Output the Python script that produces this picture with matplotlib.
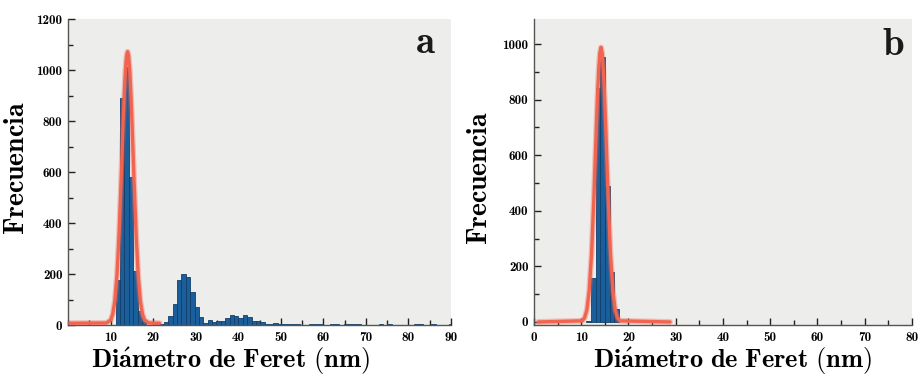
import numpy as np
import matplotlib
matplotlib.use("Agg")
import matplotlib.pyplot as plt
from matplotlib.ticker import MultipleLocator, FixedLocator

plt.rcParams['mathtext.fontset'] = 'cm'
plt.rcParams['font.family'] = ['cmb10', 'DejaVu Serif']
plt.rcParams['axes.unicode_minus'] = False

# ─── Data ────────────────────────────────────────────────────────────────────

# panel a: histogram (bin width ~1.03 nm starting at 11.2 nm)
a_bin_start = 11.2
a_bin_width = 1.03
a_counts = [175, 890, 1010, 580, 210, 55, 15, 2, 2, 3, 5,
            10, 37, 81, 176, 200, 187, 128, 72, 33, 9,
            20, 12, 16, 16, 29, 39, 35, 29, 39, 33,
            16, 16, 10, 4, 4, 6, 3, 3, 5, 5,
            4, 2, 2, 4, 5, 4, 2, 2, 3, 3,
            2, 3, 4, 3, 3, 0, 0, 0, 0, 4,
            0, 4, 0, 0, 0, 0, 0, 3, 3, 0,
            0, 3, 0, 0, 0, 4, 4]

a_fit_x = [0.5, 9.0, 10.0, 10.5, 11.0, 11.5, 12.0, 12.5, 13.0, 13.25, 13.5, 13.75,
           14.0, 14.25, 14.5, 14.75, 15.0, 15.5, 16.0, 16.5, 17.0, 17.5, 18.0,
           19.0, 21.5]
a_fit_y = [7, 8, 19, 42, 94, 194, 357, 576, 813, 917, 1000, 1054,
           1072, 1054, 1000, 917, 813, 576, 357, 194, 94, 42, 19, 8, 7]

# panel b: histogram (bin width 1 nm starting at 11.05 nm)
b_bin_start = 11.05
b_bin_width = 1.0
b_counts = [5, 157, 841, 955, 490, 181, 46]

b_fit_x = [0.9, 10.2, 10.7, 11.2, 11.7, 12.2, 12.7, 13.2, 13.45, 13.7, 13.95,
           14.2, 14.45, 14.7, 14.95, 15.2, 15.7, 16.2, 16.7, 17.2, 17.7, 18.2,
           28.8]
b_fit_y = [0, 4, 14, 43, 113, 246, 452, 698, 813, 906, 967, 988, 967, 906,
           813, 698, 452, 246, 113, 43, 14, 4, 0]

BG = '#EDEDEB'
BAR = '#1B5E9C'
BAR_EDGE = '#123F6A'
FIT = '#F06450'
SPINE = '#555555'

XLABEL = r'$\mathbf{Di\acute{a}metro\ de\ Feret\ (nm)}$'
YLABEL = r'$\mathbf{Frecuencia}$'


def style_axes(ax):
    ax.set_facecolor(BG)
    for s in ('top', 'right'):
        ax.spines[s].set_visible(False)
    for s in ('left', 'bottom'):
        ax.spines[s].set_color(SPINE)
        ax.spines[s].set_linewidth(1.0)
    ax.tick_params(which='both', direction='in', color='#222222', width=1.0)
    ax.tick_params(which='major', length=5)
    ax.tick_params(which='minor', length=3.5)
    ax.tick_params(axis='x', which='both', pad=5, labelsize=9.5)
    ax.tick_params(axis='y', which='both', pad=4, labelsize=9.5)


def draw_hist(ax, start, width, counts):
    lefts = start + width * np.arange(len(counts))
    ax.bar(lefts, counts, width=width, align='edge', color=BAR,
           edgecolor=BAR_EDGE, linewidth=0.6, zorder=2)


def draw_fit(ax, x, y):
    ax.plot(x, y, color=FIT, linewidth=4.2, alpha=0.35,
            solid_capstyle='round', zorder=3)
    ax.plot(x, y, color=FIT, linewidth=2.4, solid_capstyle='round', zorder=4)


fig = plt.figure(figsize=(9.19, 3.76), dpi=100)
ax_a = fig.add_axes([0.074, 0.1356, 0.4168, 0.8138])
ax_b = fig.add_axes([0.581, 0.1356, 0.4113, 0.8138])

# ─── Panel a ─────────────────────────────────────────────────────────────────
style_axes(ax_a)
draw_hist(ax_a, a_bin_start, a_bin_width, a_counts)
draw_fit(ax_a, a_fit_x, a_fit_y)
ax_a.set_xlim(0, 90)
ax_a.set_ylim(0, 1200)
ax_a.xaxis.set_major_locator(FixedLocator(np.arange(10, 91, 10)))
ax_a.xaxis.set_minor_locator(MultipleLocator(5))
ax_a.yaxis.set_major_locator(MultipleLocator(200))
ax_a.yaxis.set_minor_locator(MultipleLocator(100))
ax_a.set_xlabel(XLABEL, fontsize=19)
ax_a.set_ylabel(YLABEL, fontsize=20)
ax_a.xaxis.set_label_coords(0.423, -0.066)
ax_a.yaxis.set_label_coords(-0.099, 0.513)
ax_a.text(0.932, 0.889, r'$\mathbf{a}$', transform=ax_a.transAxes,
          fontsize=28, ha='center', va='baseline', color='#1a1a1a')

# ─── Panel b ─────────────────────────────────────────────────────────────────
style_axes(ax_b)
draw_hist(ax_b, b_bin_start, b_bin_width, b_counts)
draw_fit(ax_b, b_fit_x, b_fit_y)
ax_b.set_xlim(0, 80)
ax_b.set_ylim(-11, 1090)
ax_b.xaxis.set_major_locator(MultipleLocator(10))
ax_b.xaxis.set_minor_locator(MultipleLocator(5))
ax_b.yaxis.set_major_locator(FixedLocator(np.arange(0, 1001, 200)))
ax_b.yaxis.set_minor_locator(FixedLocator(np.arange(100, 1001, 200)))
ax_b.set_xlabel(XLABEL, fontsize=19)
ax_b.set_ylabel(YLABEL, fontsize=20)
ax_b.xaxis.set_label_coords(0.524, -0.066)
ax_b.yaxis.set_label_coords(-0.108, 0.48)
ax_b.text(0.95, 0.882, r'$\mathbf{b}$', transform=ax_b.transAxes,
          fontsize=28, ha='center', va='baseline', color='#1a1a1a')

fig.savefig('out.png', dpi=100)
